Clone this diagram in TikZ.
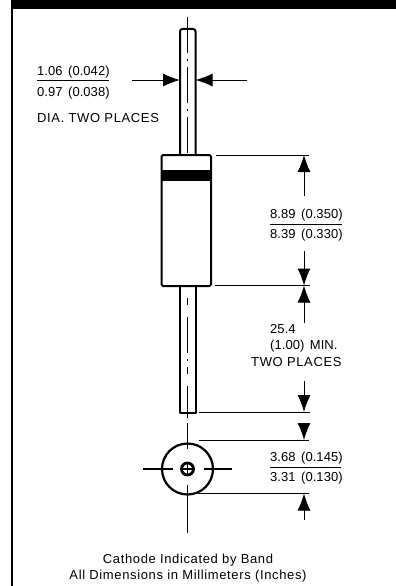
\documentclass[tikz,border=0pt]{standalone}
\usepackage{fontspec}
\setmainfont{Liberation Sans}
\newfontfamily\widefont[LetterSpace=4.9]{Liberation Sans}
\newfontfamily\numfont[LetterSpace=0.4,WordSpace=1.5]{Liberation Sans}
\usetikzlibrary{arrows.meta}
\tikzset{
  dimline/.style={line width=0.9pt,black},
  dimarrow/.style={line width=1pt,black,-{Latex[length=17pt,width=13pt]}},
  outline/.style={line width=2pt,black,line join=round},
  centerln/.style={line width=1pt,black,dash pattern=on 36pt off 6pt on 2pt off 6pt},
  crossln/.style={line width=1.1pt,black},
  lbl/.style={inner sep=0pt,font=\fontsize{13}{15}\selectfont\numfont,anchor=west},
  wlbl/.style={inner sep=0pt,font=\fontsize{13}{15}\selectfont\widefont,anchor=west},
  foot/.style={inner sep=0pt,font=\fontsize{13}{15}\selectfont\widefont,anchor=center}
}
\begin{document}
\begin{tikzpicture}[x=1pt,y=-1pt]
\useasboundingbox (0,0) rectangle (396,586);
\fill[white] (0,0) rectangle (396,586);
% frame
\fill[black] (11,0) rectangle (396,9);
\fill[black] (11,0) rectangle (13,586);
% upper lead
\draw[outline,rounded corners=2.5pt] (180,155) -- (180,29) -- (195.5,29) -- (195.5,155);
% body
\draw[outline,rounded corners=1.5pt] (161.5,155) rectangle (211,286);
\fill[black] (161,170) rectangle (211.5,181);
% lower lead
\draw[outline] (180,286) -- (180,413) -- (195.5,413) -- (195.5,286);
% centre lines
\coordinate (cla) at (187.5,17);
\coordinate (clb) at (187.5,155);
\draw[centerln] (cla) -- (clb);
\coordinate (clc) at (187.5,298);
\coordinate (cld) at (187.5,418);
\draw[centerln,dash pattern=on 7pt off 12pt on 36pt off 6pt on 2pt off 6pt] (clc) -- (cld);
% end view
\coordinate (endc) at (187.5,469);
\draw[line width=2.2pt] (endc) circle[radius=25.5];
\draw[line width=2.8pt] (endc) circle[radius=6];
\coordinate (hl1) at (143,469); \coordinate (hl2) at (173,469);
\coordinate (hr1) at (204,469); \coordinate (hr2) at (232,469);
\coordinate (vt1) at (187.5,423); \coordinate (vt2) at (187.5,449);
\coordinate (vb1) at (187.5,485); \coordinate (vb2) at (187.5,533);
\coordinate (ic1) at (182,469); \coordinate (ic2) at (193,469);
\coordinate (ic3) at (187.5,464); \coordinate (ic4) at (187.5,475);
\draw[crossln] (hl1) -- (hl2);
\draw[crossln] (hr1) -- (hr2);
\draw[crossln] (vt1) -- (vt2);
\draw[crossln] (vb1) -- (vb2);
\draw[crossln] (ic1) -- (ic2);
\draw[crossln] (ic3) -- (ic4);
% lead diameter dimension
\coordinate (da) at (132,80); \coordinate (db) at (180,80);
\coordinate (dc) at (247,80); \coordinate (dd) at (195.5,80);
\draw[dimarrow] (da) -- (db);
\draw[dimarrow] (dc) -- (dd);
\node[lbl] (t1) at (37,72) {1.06 (0.042)};
\coordinate (r1a) at (37,80); \coordinate (r1b) at (109,80);
\draw[dimline] (r1a) -- (r1b);
\node[lbl] (t2) at (37,93) {0.97 (0.038)};
\node[wlbl] (t3) at (37,118) {DIA. TWO PLACES};
% body length dimension
\coordinate (e1a) at (216,155); \coordinate (e1b) at (309,155);
\draw[dimline] (e1a) -- (e1b);
\coordinate (e2a) at (215,285.5); \coordinate (e2b) at (310,285.5);
\draw[dimline] (e2a) -- (e2b);
\coordinate (a1a) at (304,196); \coordinate (a1b) at (304,155);
\draw[dimarrow] (a1a) -- (a1b);
\coordinate (a2a) at (304,251); \coordinate (a2b) at (304,285.5);
\draw[dimarrow] (a2a) -- (a2b);
\coordinate (a3a) at (304,323); \coordinate (a3b) at (304,285.5);
\draw[dimarrow] (a3a) -- (a3b);
\node[lbl] (t4) at (270,215) {8.89 (0.350)};
\coordinate (r2a) at (270,224); \coordinate (r2b) at (342,224);
\draw[dimline] (r2a) -- (r2b);
\node[lbl] (t5) at (270,235) {8.39 (0.330)};
% lead length
\node[lbl] (t6) at (270,329) {25.4};
\node[lbl] (t7) at (270,346) {(1.00) MIN.};
\node[wlbl] (t8) at (251,362) {TWO PLACES};
\coordinate (e3a) at (199,412); \coordinate (e3b) at (310,412);
\draw[dimline] (e3a) -- (e3b);
\coordinate (a4a) at (304,381); \coordinate (a4b) at (304,412);
\draw[dimarrow] (a4a) -- (a4b);
% end view dimension
\coordinate (e4a) at (199,440); \coordinate (e4b) at (309,440);
\draw[dimline] (e4a) -- (e4b);
\coordinate (a5a) at (304,423); \coordinate (a5b) at (304,440);
\draw[dimarrow] (a5a) -- (a5b);
\coordinate (e5a) at (198,493.5); \coordinate (e5b) at (309,493.5);
\draw[dimline] (e5a) -- (e5b);
\coordinate (a6a) at (304,520); \coordinate (a6b) at (304,493.5);
\draw[dimarrow] (a6a) -- (a6b);
\node[lbl] (t9) at (270,458) {3.68 (0.145)};
\coordinate (r3a) at (270,467); \coordinate (r3b) at (341,467);
\draw[dimline] (r3a) -- (r3b);
\node[lbl] (t10) at (270,478) {3.31 (0.130)};
% footer
\node[foot] (f1) at (188,560) {Cathode Indicated by Band};
\node[foot] (f2) at (188,576) {All Dimensions in Millimeters (Inches)};
\end{tikzpicture}
\end{document}
